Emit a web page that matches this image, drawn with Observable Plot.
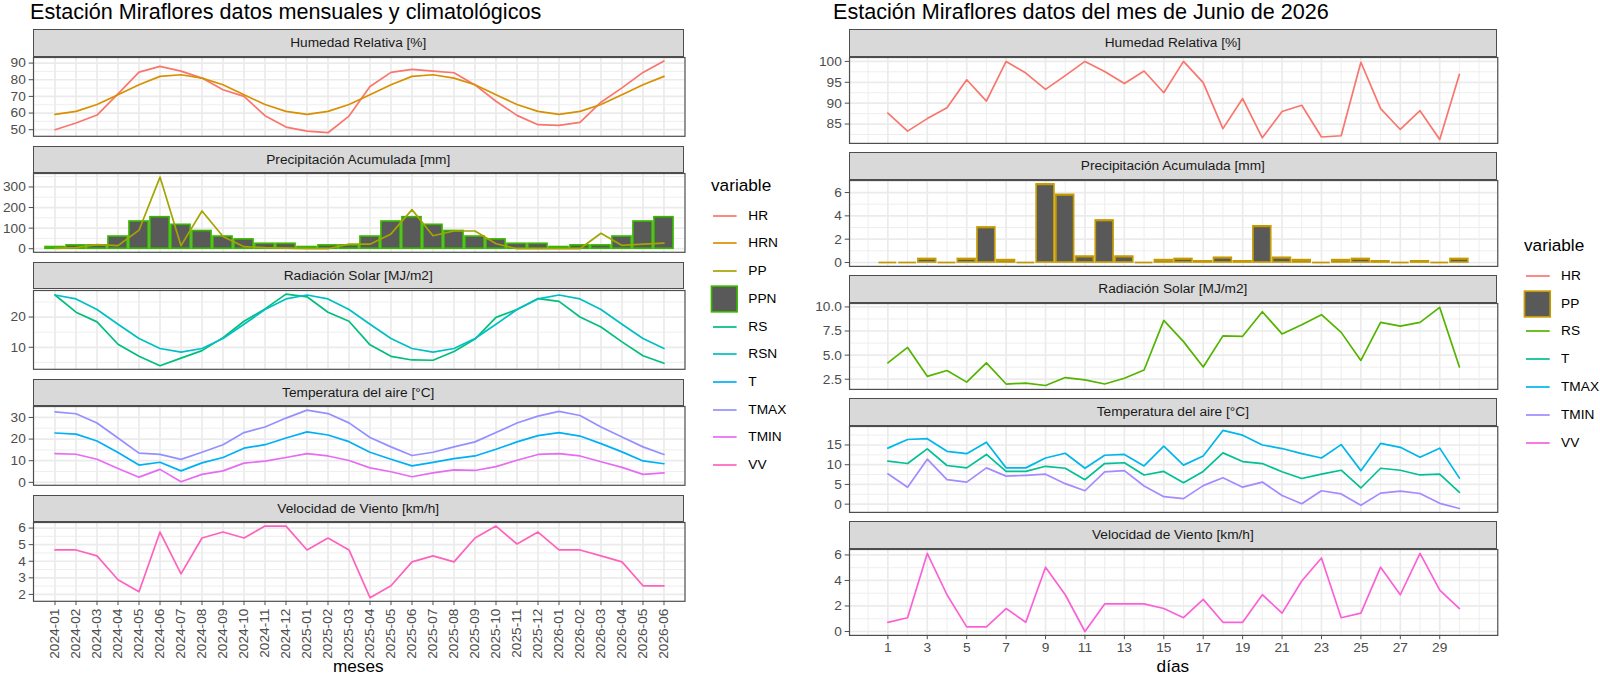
<!DOCTYPE html>
<html><head><meta charset="utf-8">
<script src="https://cdn.jsdelivr.net/npm/d3@7"></script>
<script src="https://cdn.jsdelivr.net/npm/@observablehq/plot@0.6"></script>
<style>
body{margin:0;background:#fff;font-family:"Liberation Sans",Arial,Helvetica,sans-serif;}
#root{position:relative;width:1600px;height:676px;overflow:hidden;background:#fff;}
.abs{position:absolute;}
.strip{position:absolute;background:#d9d9d9;border:1.2px solid #4d4d4d;box-sizing:border-box;color:#1a1a1a;font-size:13.7px;display:flex;align-items:center;justify-content:center;white-space:nowrap;}
.title{position:absolute;font-size:21.6px;line-height:1;color:#000;white-space:nowrap;}
.axtitle{position:absolute;font-size:17.2px;line-height:1;color:#000;white-space:nowrap;transform:translateX(-50%);}
.legtitle{position:absolute;font-size:17.2px;line-height:20px;height:20px;color:#000;white-space:nowrap;}
.leglab{position:absolute;font-size:13.7px;line-height:20px;height:20px;color:#000;white-space:nowrap;}
svg{overflow:visible;}
</style>
</head><body><div id="root"></div>
<script>
// ---------------- monthly data (left) ----------------
const months = ["2024-01","2024-02","2024-03","2024-04","2024-05","2024-06","2024-07","2024-08","2024-09","2024-10","2024-11","2024-12",
  "2025-01","2025-02","2025-03","2025-04","2025-05","2025-06","2025-07","2025-08","2025-09","2025-10","2025-11","2025-12",
  "2026-01","2026-02","2026-03","2026-04","2026-05","2026-06"];
const HR   = [50.0,54.0,58.8,71.5,84.6,88.0,85.2,81.0,74.0,70.0,58.4,51.6,49.2,48.2,58.2,75.9,84.4,86.2,85.2,84.2,76.9,67.1,58.6,53.0,52.6,54.4,66.5,75.1,84.4,91.2];
const HRN  = [59.2,61.0,65.1,71.0,77.0,82.0,83.0,81.0,77.0,71.0,65.1,61.0,59.2,61.0,65.1,71.0,77.0,82.0,83.0,81.0,77.0,71.0,65.1,61.0,59.2,61.0,65.1,71.0,77.0,82.0];
const PP   = [2,5,20,15,90,348,15,183,59,10,5,3,0,0,22,22,72,190,63,86,86,24,0,0,0,0,75,16,22,27];
const PPN  = [8,16,16,59,132,153,116,86,59,45,24,24,8,16,16,59,132,153,116,86,59,45,24,24,8,16,16,59,132,153];
const RS   = [27.3,21.6,18.4,11.0,7.0,3.9,6.4,8.9,13.2,18.6,22.7,27.6,26.7,21.6,18.6,10.8,7.0,5.8,5.7,8.6,12.7,19.9,22.5,26.1,25.2,20.0,16.7,11.8,7.2,4.7];
const RSN  = [27.3,26.0,22.5,17.6,12.9,9.6,8.4,9.6,12.9,17.6,22.5,26.0,27.3,26.0,22.5,17.6,12.9,9.6,8.4,9.6,12.9,17.6,22.5,26.0,27.3,26.0,22.5,17.6,12.9,9.6];
const TMAX = [32.6,31.7,27.4,20.5,13.5,12.9,10.6,13.9,17.4,23.0,25.6,29.7,33.4,31.8,27.5,20.7,16.4,12.4,13.9,16.4,18.7,23.0,27.4,30.6,32.8,30.9,25.6,21.0,16.4,12.9];
const T    = [22.8,22.3,19.1,13.8,8.0,9.3,5.3,9.0,11.5,15.8,17.4,20.5,23.3,21.9,18.8,13.9,10.7,7.6,9.2,11.0,12.2,15.3,18.7,21.6,23.0,21.4,17.9,14.1,9.9,8.6];
const TMIN = [13.3,13.0,10.7,6.4,2.4,6.0,0.3,3.7,5.3,8.9,9.8,11.5,13.3,12.2,10.1,6.7,4.9,2.6,4.4,5.8,5.5,7.3,10.2,12.9,13.3,12.2,9.5,6.9,3.7,4.4];
const VV   = [4.68,4.68,4.32,2.88,2.16,5.76,3.24,5.40,5.76,5.40,6.12,6.12,4.68,5.40,4.68,1.80,2.52,3.96,4.32,3.96,5.40,6.12,5.04,5.76,4.68,4.68,4.32,3.96,2.52,2.52];

// ---------------- daily data (right) ----------------
const days  = [1,2,3,4,5,6,7,8,9,10,11,12,13,14,15,16,17,18,19,20,21,22,23,24,25,26,27,28,29,30];
const dHR   = [87.6,83.3,86.3,88.9,95.6,90.5,100,97.2,93.3,96.6,100,97.6,94.7,97.7,92.5,100,94.9,83.9,91.1,81.7,88.0,89.5,81.9,82.2,99.8,88.7,83.7,88.2,81.3,96.9];
const dPP   = [0,0,0.3,0,0.3,3.0,0.2,0,6.7,5.8,0.5,3.6,0.5,0,0.2,0.3,0.1,0.4,0.1,3.1,0.4,0.2,0,0.2,0.3,0.1,0,0.1,0,0.3];
const dRS   = [4.2,5.8,2.8,3.4,2.2,4.2,2.0,2.1,1.85,2.67,2.43,2.0,2.6,3.46,8.6,6.4,3.77,7.0,6.95,9.5,7.2,8.15,9.2,7.36,4.45,8.4,8.0,8.4,9.95,3.77];
const dTMAX = [14.2,16.4,16.6,13.4,12.8,15.7,9.2,9.2,11.7,12.9,9.1,12.4,12.6,9.7,14.7,9.9,12.2,18.7,17.5,15.0,14.1,12.8,11.7,15.1,8.5,15.4,14.4,11.9,14.2,6.6];
const dT    = [10.9,10.3,14.0,9.8,9.2,12.6,8.3,8.3,9.6,9.1,6.2,10.3,10.5,7.4,8.3,5.4,8.3,13.0,10.8,10.3,8.2,6.5,7.6,8.6,4.1,9.1,8.6,7.4,7.6,3.0];
const dTMIN = [7.7,4.3,11.4,6.2,5.6,9.2,7.1,7.3,7.6,5.2,3.4,8.2,8.5,4.6,1.9,1.4,4.7,6.7,4.3,5.6,2.2,0.1,3.4,2.6,-0.3,2.8,3.3,2.7,0.2,-1.1];
const dVV   = [0.72,1.08,6.12,2.88,0.36,0.36,1.80,0.72,5.04,2.88,0,2.16,2.16,2.16,1.80,1.08,2.52,0.72,0.72,2.88,1.44,3.96,5.76,1.08,1.44,5.04,2.88,6.12,3.24,1.80];

// ---------------- tick labels ----------------
const ticksL = {HR:[50,60,70,80,90], PP:[0,100,200,300], RS:[10,20], T:[0,10,20,30], VV:[2,3,4,5,6]};
const minorL = {HR:[55,65,75,85], PP:[50,150,250,350], RS:[5,15,25], T:[5,15,25,35], VV:[2.5,3.5,4.5,5.5]};
const ticksR = {HR:[85,90,95,100], PP:[0,2,4,6], RS:[2.5,5.0,7.5,10.0], T:[0,5,10,15], VV:[0,2,4,6]};
const minorR = {HR:[82.5,87.5,92.5,97.5], PP:[1,3,5,7], RS:[3.75,6.25,8.75], T:[2.5,7.5,12.5,17.5], VV:[1,3,5]};
const dayTicks = [1,3,5,7,9,11,13,15,17,19,21,23,25,27,29];
const dayMinor = [0,2,4,6,8,10,12,14,16,18,20,22,24,26,28,30,31];

const stripTitles = ["Humedad Relativa [%]","Precipitación Acumulada [mm]","Radiación Solar [MJ/m2]","Temperatura del aire [°C]","Velocidad de Viento [km/h]"];
const varsL = ["HR","HRN","PP","PPN","RS","RSN","T","TMAX","TMIN","VV"];
const colsL = ["#F8766D","#D89000","#A3A500","#39B600","#00BF7D","#00BFC4","#00B0F6","#9590FF","#E76BF3","#FF62BC"];
const varsR = ["HR","PP","RS","T","TMAX","TMIN","VV"];
const colsR = ["#F8766D","#C49A00","#53B400","#00C094","#00B6EB","#A58AFF","#FB61D7"];
const cL = Object.fromEntries(varsL.map((v,i)=>[v,colsL[i]]));
const cR = Object.fromEntries(varsR.map((v,i)=>[v,colsR[i]]));

// ---------------- layout ----------------
const FONT = '"Liberation Sans",Arial,Helvetica,sans-serif';
const LW = 1.7, GRID = "#EBEBEB";
const LL = {x0:32.5, x1:684, top0:29.3, step:116.4, stripH:27.4, panelH:78.8};
const LR = {x0:848.7, x1:1497, top0:29.3, step:123, stripH:27.4, panelH:85.9};
const root = document.getElementById("root");
function addDiv(cls, style, text){const d=document.createElement("div");d.className=cls;Object.assign(d.style,style);if(text!=null)d.textContent=text;root.appendChild(d);return d;}
function expand(vals, zero){let lo=d3.min(vals),hi=d3.max(vals);if(zero){lo=Math.min(lo,0);hi=Math.max(hi,0);}const e=(hi-lo)*0.05;return [lo-e,hi+e];}
const series = (xs, ys, key) => xs.map((x,i)=>({x, v: ys[i], k: key}));
const fmtInt = d=>String(d);

function facet(L, i, o){
  const stripTop = L.top0 + L.step*i, panelTop = stripTop + L.stripH;
  addDiv("strip",{left:L.x0+"px",top:stripTop+"px",width:(L.x1-L.x0)+"px",height:L.stripH+"px"}, stripTitles[i]);
  const pad = 2, ml = 70, mb = o.xAxis ? 70 : pad;
  const chart = Plot.plot({
    width: (L.x1-L.x0)+ml+pad, height: L.panelH+pad+mb,
    marginLeft: ml, marginRight: pad, marginTop: pad, marginBottom: mb,
    x: Object.assign({}, o.x, o.xAxis ? {axis:"bottom", tickSize:4.3, tickPadding:3, label:null} : {axis:null}),
    y: {domain:o.yDomain, ticks:o.yTicks, tickSize:4.3, tickPadding:3.4, label:null, tickFormat:o.yFormat || fmtInt},
    style:{fontFamily:FONT, fontSize:"13.7px", color:"#4D4D4D", background:"none", overflow:"visible"},
    marks:[
      Plot.ruleY(o.yMinor,{stroke:GRID,strokeWidth:0.85}),
      o.xMinor ? Plot.ruleX(o.xMinor,{stroke:GRID,strokeWidth:0.85}) : null,
      Plot.ruleY(o.yTicks,{stroke:GRID,strokeWidth:1.7}),
      Plot.ruleX(o.xMajor,{stroke:GRID,strokeWidth:1.7}),
      ...o.marks,
      Plot.frame({stroke:"#4d4d4d",strokeWidth:1.2})
    ]
  });
  const w = addDiv("abs",{left:(L.x0-ml)+"px",top:(panelTop-pad)+"px"});
  w.appendChild(chart);
}

// ---------- left ----------
const xL = {type:"band", domain:months, paddingInner:0.1, paddingOuter:0.15, align:0.5};
const lineL = (ys,key)=>Plot.line(series(months,ys,key),{x:"x",y:"v",stroke:cL[key],strokeWidth:LW});
facet(LL,0,{x:xL,xMajor:months,yDomain:expand([...HR,...HRN]),yTicks:ticksL.HR,yMinor:minorL.HR,marks:[lineL(HR,"HR"),lineL(HRN,"HRN")]});
facet(LL,1,{x:xL,xMajor:months,yDomain:expand([...PP,...PPN],true),yTicks:ticksL.PP,yMinor:minorL.PP,marks:[
  Plot.barY(series(months,PPN,"PPN"),{x:"x",y:"v",fill:"#595959",stroke:cL.PPN,strokeWidth:LW}),
  lineL(PP,"PP")]});
facet(LL,2,{x:xL,xMajor:months,yDomain:expand([...RS,...RSN]),yTicks:ticksL.RS,yMinor:minorL.RS,marks:[lineL(RS,"RS"),lineL(RSN,"RSN")]});
facet(LL,3,{x:xL,xMajor:months,yDomain:expand([...T,...TMAX,...TMIN]),yTicks:ticksL.T,yMinor:minorL.T,marks:[lineL(T,"T"),lineL(TMAX,"TMAX"),lineL(TMIN,"TMIN")]});
facet(LL,4,{x:Object.assign({},xL,{tickRotate:-90}),xAxis:true,xMajor:months,yDomain:expand(VV),yTicks:ticksL.VV,yMinor:minorL.VV,marks:[lineL(VV,"VV")]});

// ---------- right ----------
const barHalf = 0.45;
const xspan = (d3.max(days)+barHalf) - (d3.min(days)-barHalf);
const xR = {type:"linear", domain:[d3.min(days)-barHalf-0.05*xspan, d3.max(days)+barHalf+0.05*xspan], ticks:dayTicks, tickFormat:fmtInt};
const lineR = (ys,key)=>Plot.line(series(days,ys,key),{x:"x",y:"v",stroke:cR[key],strokeWidth:LW});
const fmt1 = d=>d.toFixed(1);
facet(LR,0,{x:xR,xMajor:dayTicks,xMinor:dayMinor,yDomain:expand(dHR),yTicks:ticksR.HR,yMinor:minorR.HR,marks:[lineR(dHR,"HR")]});
const ppData = series(days,dPP,"PP");
facet(LR,1,{x:xR,xMajor:dayTicks,xMinor:dayMinor,yDomain:expand(dPP,true),yTicks:ticksR.PP,yMinor:minorR.PP,marks:[
  Plot.rect(ppData,{x1:d=>d.x-barHalf,x2:d=>d.x+barHalf,y1:0,y2:"v",fill:"#595959",stroke:cR.PP,strokeWidth:LW}),
  Plot.ruleY(ppData,{x1:d=>d.x-barHalf,x2:d=>d.x+barHalf,y:"v",stroke:cR.PP,strokeWidth:LW})]});
facet(LR,2,{x:xR,xMajor:dayTicks,xMinor:dayMinor,yDomain:expand(dRS),yTicks:ticksR.RS,yMinor:minorR.RS,yFormat:fmt1,marks:[lineR(dRS,"RS")]});
facet(LR,3,{x:xR,xMajor:dayTicks,xMinor:dayMinor,yDomain:expand([...dT,...dTMAX,...dTMIN]),yTicks:ticksR.T,yMinor:minorR.T,marks:[lineR(dT,"T"),lineR(dTMAX,"TMAX"),lineR(dTMIN,"TMIN")]});
facet(LR,4,{x:xR,xAxis:true,xMajor:dayTicks,xMinor:dayMinor,yDomain:expand(dVV),yTicks:ticksR.VV,yMinor:minorR.VV,marks:[lineR(dVV,"VV")]});

// ---------- titles ----------
addDiv("title",{left:"30px",top:"0.5px"},"Estación Miraflores datos mensuales y climatológicos");
addDiv("title",{left:"833px",top:"0.5px"},"Estación Miraflores datos del mes de Junio de 2026");
addDiv("axtitle",{left:((LL.x0+LL.x1)/2)+"px",top:"658px"},"meses");
addDiv("axtitle",{left:((LR.x0+LR.x1)/2)+"px",top:"658px"},"días");

// ---------- legends ----------
function legend(vars, cols, boxVar, tx, ty, y0, step, kx0, kx1, lx){
  addDiv("legtitle",{left:tx+"px",top:(ty-10)+"px"},"variable");
  vars.forEach((v,i)=>{
    const cy = y0 + step*i;
    const s = document.createElementNS("http://www.w3.org/2000/svg","svg");
    s.setAttribute("width",30); s.setAttribute("height",30);
    s.style.position="absolute"; s.style.left=(kx0-1.5)+"px"; s.style.top=(cy-15)+"px";
    if (v===boxVar){
      s.innerHTML = `<rect x="1.5" y="${15-13.3+0.5}" width="${kx1-kx0-1}" height="${26.6-1}" fill="#595959" stroke="${cols[i]}" stroke-width="${LW}"/>`;
    } else {
      s.innerHTML = `<line x1="${1.5+1.5}" x2="${1.5+kx1-kx0-1.5}" y1="15" y2="15" stroke="${cols[i]}" stroke-width="${LW}"/>`;
    }
    root.appendChild(s);
    addDiv("leglab",{left:lx+"px",top:(cy-10)+"px"},v);
  });
}
legend(varsL, colsL, "PPN", 711, 185, 215.7, 27.7, 711.7, 738.3, 748.3);
legend(varsR, colsR, "PP", 1524, 245, 275.7, 27.8, 1524.3, 1551, 1561);
</script>
</body></html>
